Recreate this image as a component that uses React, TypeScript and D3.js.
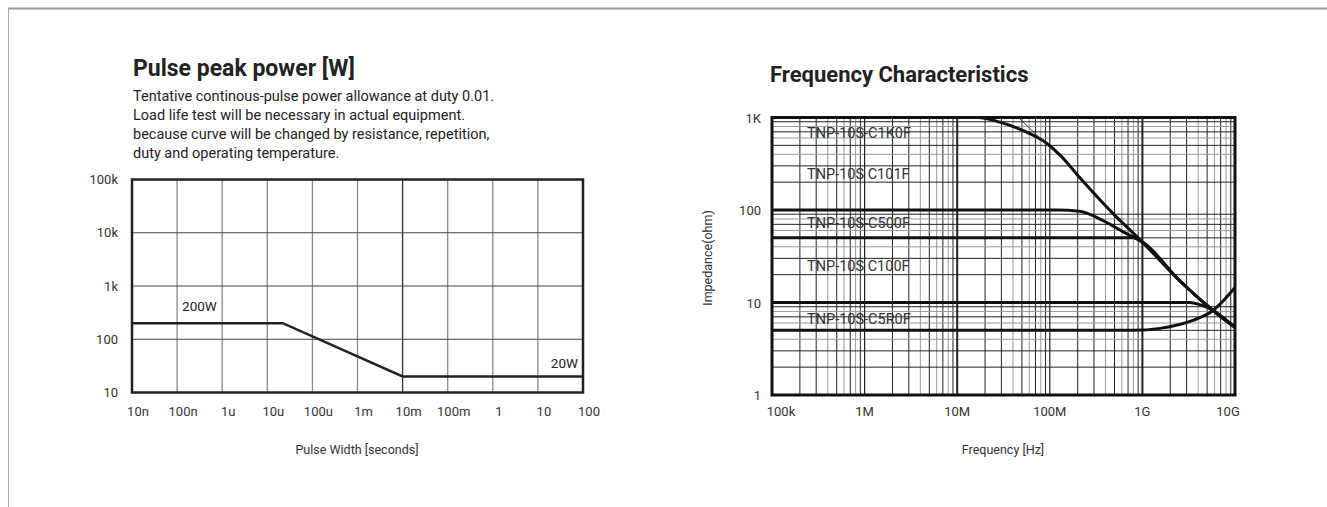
import React from "react";
import * as d3 from "d3";

// ---- pulse peak power chart data ----
const pulseTicks = [1e-8, 1e-7, 1e-6, 1e-5, 1e-4, 1e-3, 1e-2, 1e-1, 1, 10, 100];
const pulseTickLabels = ["10n", "100n", "1u", "10u", "100u", "1m", "10m", "100m", "1", "10", "100"];
const powerTicks = [10, 100, 1e3, 1e4, 1e5];
const powerTickLabels = ["10", "100", "1k", "10k", "100k"];
const pulseWidth = [1e-8, 2.2e-5, 1e-2, 100];
const pulsePower = [200, 200, 20, 20];
const noteLines = [
  "Tentative continous-pulse power allowance at duty 0.01.",
  "Load life test will be necessary in actual equipment.",
  "because curve will be changed by resistance, repetition,",
  "duty and operating temperature.",
];

// ---- frequency characteristics data ----
const freqTicks = [1e5, 1e6, 1e7, 1e8, 1e9, 1e10];
const freqTickLabels = ["100k", "1M", "10M", "100M", "1G", "10G"];
const impTicks = [1, 10, 100, 1000];
const impTickLabels = ["1", "10", "100", "1K"];
const seriesNames = ["TNP-10S-C1K0F", "TNP-10S C101F", "TNP-10S-C500F", "TNP-10S C100F", "TNP-10S-C5R0F"];
const seriesLabelValues = [680, 245, 73, 25, 6.6];
const c1k0f = [[1e5, 1000], [1.7e7, 1000], [2.9e7, 890], [5.1e7, 724], [9.3e7, 524], [1.3e8, 389], [2.1e8, 225], [4.8e8, 92], [1e9, 45], [2.5e9, 17.4], [5.8e9, 8.2], [1e10, 5.4]];
const c101f = [[1e5, 100], [1.2e8, 100], [2.1e8, 97], [3.75e8, 77], [6.2e8, 58], [1e9, 45], [2.5e9, 17.4], [5.8e9, 8.2], [1e10, 5.4]];
const c500f = [[1e5, 50], [7.9e8, 50], [1e9, 45], [2.5e9, 17.4], [5.8e9, 8.2], [1e10, 5.4]];
const c100f = [[1e5, 10], [3.2e9, 10], [4.4e9, 9.3], [5.8e9, 8.2], [1e10, 5.4]];
const c5r0f = [[1e5, 5], [8e8, 5], [1.55e9, 5.25], [3.5e9, 6.4], [5.8e9, 8.2], [1e10, 14.5]];
const asymptote = [[4.6e7, 1000], [1e8, 470]];

const FONT = "Roboto, 'DejaVu Sans', sans-serif";

const drawPulseChart = (g) => {
  const x = d3.scaleLog().domain([1e-8, 100]).range([132, 583]);
  const y = d3.scaleLog().domain([10, 1e5]).range([392.5, 179.5]);

  g.append("text").text("Pulse peak power [W]")
    .attr("x", 133).attr("y", 76)
    .style("font-family", FONT).style("font-weight", 700).style("font-size", "23px").style("fill", "#222");
  g.selectAll(null).data(noteLines).enter().append("text")
    .text(d => d)
    .attr("x", 133).attr("y", (d, i) => 101 + i * 19)
    .style("font-family", FONT).style("font-size", "14.5px").style("fill", "#222");

  g.selectAll(null).data(pulseTicks.slice(1, -1)).enter().append("line")
    .attr("x1", d => x(d)).attr("x2", d => x(d)).attr("y1", y(1e5)).attr("y2", y(10))
    .attr("stroke", d => (d === 1e-2 ? "#333" : "#888")).attr("stroke-width", 1.3);
  g.selectAll(null).data(powerTicks.slice(1, -1)).enter().append("line")
    .attr("y1", d => y(d)).attr("y2", d => y(d)).attr("x1", x(1e-8)).attr("x2", x(100))
    .attr("stroke", "#444").attr("stroke-width", 1.2);

  g.append("rect")
    .attr("x", x(1e-8)).attr("y", y(1e5))
    .attr("width", x(100) - x(1e-8)).attr("height", y(10) - y(1e5))
    .attr("fill", "none").attr("stroke", "#222").attr("stroke-width", 2.5);

  const line = d3.line().x(d => x(d[0])).y(d => y(d[1]));
  g.append("path")
    .attr("d", line(pulseWidth.map((w, i) => [w, pulsePower[i]])))
    .attr("fill", "none").attr("stroke", "#222").attr("stroke-width", 2.5);

  g.append("text").text("200W").attr("x", x(1e-7) + 5).attr("y", y(200) - 12)
    .style("font-family", FONT).style("font-size", "13.5px").style("fill", "#222");
  g.append("text").text("20W").attr("x", x(100) - 5).attr("y", y(20) - 8)
    .attr("text-anchor", "end")
    .style("font-family", FONT).style("font-size", "13.5px").style("fill", "#222");

  g.selectAll(null).data(powerTicks).enter().append("text")
    .text((d, i) => powerTickLabels[i])
    .attr("x", 118).attr("y", d => y(d) + 4.5).attr("text-anchor", "end")
    .style("font-family", FONT).style("font-size", "13px").style("fill", "#333");
  g.selectAll(null).data(pulseTicks).enter().append("text")
    .text((d, i) => pulseTickLabels[i])
    .attr("x", d => x(d) + 6).attr("y", 416).attr("text-anchor", "middle")
    .style("font-family", FONT).style("font-size", "13px").style("fill", "#333");
  g.append("text").text("Pulse Width [seconds]").attr("x", 357).attr("y", 454).attr("text-anchor", "middle")
    .style("font-family", FONT).style("font-size", "12.5px").style("fill", "#333");
};

const drawFreqChart = (g) => {
  const x = d3.scaleLog().domain([1e5, 1e10]).range([772, 1235]);
  const y = d3.scaleLog().domain([1, 1000]).range([395, 117.5]);

  g.append("text").text("Frequency Characteristics")
    .attr("x", 770).attr("y", 82)
    .style("font-family", FONT).style("font-weight", 700).style("font-size", "22px").style("fill", "#222");

  const minors = [2, 3, 4, 5, 6, 7, 8, 9];
  const xMinor = freqTicks.slice(0, -1).flatMap(t => minors.map(m => [t * m, m]));
  const yMinor = impTicks.slice(0, -1).flatMap(t => minors.map(m => [t * m, m]));
  const shade = m => (m === 4 || m === 6 || m === 8 ? "#999" : "#222");

  g.selectAll(null).data(xMinor).enter().append("line")
    .attr("x1", d => x(d[0])).attr("x2", d => x(d[0])).attr("y1", y(1000)).attr("y2", y(1))
    .attr("stroke", d => shade(d[1])).attr("stroke-width", 1);
  g.selectAll(null).data(yMinor).enter().append("line")
    .attr("y1", d => y(d[0])).attr("y2", d => y(d[0])).attr("x1", x(1e5)).attr("x2", x(1e10))
    .attr("stroke", d => shade(d[1])).attr("stroke-width", 1);
  g.selectAll(null).data(freqTicks.slice(1, -1)).enter().append("line")
    .attr("x1", d => x(d)).attr("x2", d => x(d)).attr("y1", y(1000)).attr("y2", y(1))
    .attr("stroke", "#222").attr("stroke-width", d => (d === 1e7 || d === 1e9 ? 2 : 1.2));

  g.append("rect")
    .attr("x", x(1e5)).attr("y", y(1000))
    .attr("width", x(1e10) - x(1e5)).attr("height", y(1) - y(1000))
    .attr("fill", "none").attr("stroke", "#111").attr("stroke-width", 3);

  g.selectAll(null).data(seriesNames).enter().append("text")
    .text(d => d)
    .attr("x", 807).attr("y", (d, i) => y(seriesLabelValues[i]) + 5)
    .style("font-family", FONT).style("font-size", "14.5px").style("fill", "#333");

  const line = d3.line().x(d => x(d[0])).y(d => y(d[1])).curve(d3.curveMonotoneX);
  g.selectAll(null).data([c5r0f, c100f, c500f, c101f, c1k0f]).enter().append("path")
    .attr("d", line)
    .attr("fill", "none").attr("stroke", "#111").attr("stroke-width", 3);
  g.append("path").attr("d", d3.line().x(d => x(d[0])).y(d => y(d[1]))(asymptote))
    .attr("fill", "none").attr("stroke", "#333").attr("stroke-width", 1);

  g.selectAll(null).data(impTicks).enter().append("text")
    .text((d, i) => impTickLabels[i])
    .attr("x", 761).attr("y", d => y(d) + 5).attr("text-anchor", "end")
    .style("font-family", FONT).style("font-size", "13px").style("fill", "#333");
  g.selectAll(null).data(freqTicks).enter().append("text")
    .text((d, i) => freqTickLabels[i])
    .attr("x", (d, i) => x(d) + (i === 0 ? 9 : i === 5 ? -7 : 0)).attr("y", 416).attr("text-anchor", "middle")
    .style("font-family", FONT).style("font-size", "13px").style("fill", "#333");
  g.append("text").text("Frequency [Hz]").attr("x", 1003).attr("y", 454).attr("text-anchor", "middle")
    .style("font-family", FONT).style("font-size", "12.5px").style("fill", "#333");
  g.append("text").text("Impedance(ohm)")
    .attr("transform", "translate(712, 258) rotate(-90)").attr("text-anchor", "middle")
    .style("font-family", FONT).style("font-size", "12.5px").style("fill", "#333");
};

const App = () => {
  const ref = React.useRef(null);

  React.useEffect(() => {
    const svg = d3.select(ref.current);
    svg.selectAll("*").remove();
    svg.append("rect").attr("width", 1327).attr("height", 507).attr("fill", "#fff");
    // page frame
    svg.append("line").attr("x1", 8).attr("x2", 1327).attr("y1", 8.5).attr("y2", 8.5)
      .attr("stroke", "#999").attr("stroke-width", 2);
    svg.append("line").attr("x1", 8.5).attr("x2", 8.5).attr("y1", 8).attr("y2", 507)
      .attr("stroke", "#aaa").attr("stroke-width", 1);
    drawPulseChart(svg.append("g"));
    drawFreqChart(svg.append("g"));
  }, []);

  return <svg ref={ref} width={1327} height={507} style={{ position: "absolute", left: 0, top: 0 }} />;
};

export default App;
